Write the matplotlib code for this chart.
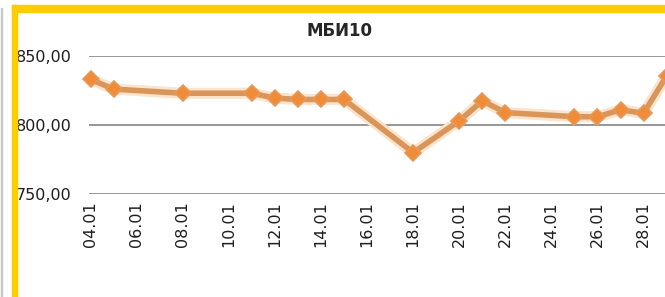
import matplotlib
matplotlib.use("Agg")
import matplotlib.pyplot as plt
import matplotlib.patheffects as pe
from matplotlib.patches import Rectangle

# Data
days = [4, 5, 8, 11, 12, 13, 14, 15, 18, 20, 21, 22, 25, 26, 27, 28, 29]
values = [833, 826, 823, 823, 819.5, 818.5, 818.5, 818.5, 780, 803, 817.5, 809, 806, 806, 811, 808.5, 835.5]
tick_days = [4, 6, 8, 10, 12, 14, 16, 18, 20, 22, 24, 26, 28]
tick_labels = ["04.01", "06.01", "08.01", "10.01", "12.01", "14.01", "16.01",
               "18.01", "20.01", "22.01", "24.01", "26.01", "28.01"]
y_ticks = [750, 800, 850]
y_labels = ["750,00", "800,00", "850,00"]
title = "МБИ10"

W, H = 665, 297
fig = plt.figure(figsize=(W / 100, H / 100), dpi=100)
fig.patch.set_facecolor("white")

px_per_day = 23.04
ax_left, ax_right = 89, 700
ax_top, ax_bottom = 56, 194
ax = fig.add_axes([ax_left / W, (H - ax_bottom) / H, (ax_right - ax_left) / W, (ax_bottom - ax_top) / H])
x0 = 3.93
ax.set_xlim(x0, x0 + (ax_right - ax_left) / px_per_day)
ax.set_ylim(750, 850)

for s in ax.spines.values():
    s.set_visible(False)
ax.set_yticks(y_ticks)
ax.set_yticklabels(y_labels)
ax.yaxis.grid(True, color="#858585", linewidth=1.2)
ax.set_axisbelow(True)
ax.tick_params(axis="y", length=0, pad=0, labelsize=11.5, labelcolor="#1e1e1e")
for t in ax.get_yticklabels():
    t.set_horizontalalignment("left")
    t.set_transform(ax.get_yaxis_transform())
    t.set_x(-(ax_left - 16) / (ax_right - ax_left))

ax.set_xticks(tick_days)
ax.set_xticklabels(tick_labels, rotation=90, fontsize=11.5, color="#1e1e1e")
ax.tick_params(axis="x", length=0, pad=5)

# line with soft glow
ax.plot(days, values, color="#D9955A", linewidth=4, solid_joinstyle="round",
        solid_capstyle="round",
        path_effects=[pe.Stroke(linewidth=8, foreground="#FCE3CC"), pe.Normal()],
        clip_on=False, zorder=3)
# markers
ax.plot(days, values, linestyle="none", marker="D", markersize=8,
        markerfacecolor="#F08C38", markeredgecolor="#E39A5C", markeredgewidth=1.2,
        clip_on=False, zorder=4)

fig.text(340 / W, 1 - 31 / H, title, ha="center", va="center", fontsize=12,
         fontweight="bold", color="#262626")

# Yellow frame
fig.patches.append(Rectangle((12 / W, 0), 5 / W, (H - 5) / H, transform=fig.transFigure,
                             color="#FFCC00", zorder=10))
fig.patches.append(Rectangle((12 / W, (H - 12) / H), (W - 12) / W, 7 / H, transform=fig.transFigure,
                             color="#FFCC00", zorder=10))
fig.patches.append(Rectangle((1 / W, 0), 1.2 / W, (H - 8) / H, transform=fig.transFigure,
                             color="#c8c8c8", zorder=10))

fig.savefig("out.png", dpi=100)
